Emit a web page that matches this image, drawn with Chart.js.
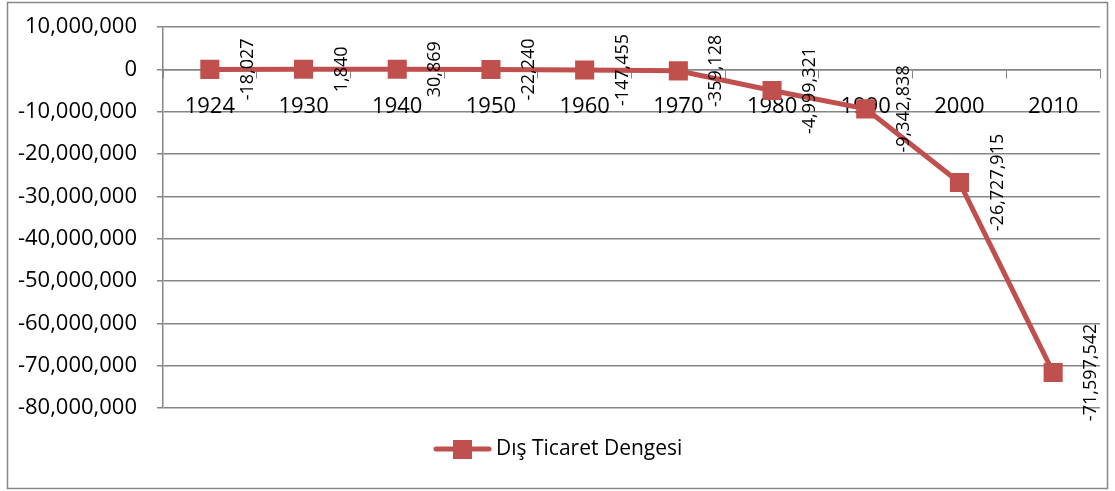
<!DOCTYPE html>
<html>
<head>
<meta charset="utf-8">
<script src="https://cdn.jsdelivr.net/npm/chart.js@4.4.0/dist/chart.umd.min.js"></script>
<style>
html, body { margin: 0; padding: 0; background: #fff; }
</style>
</head>
<body>
<canvas id="chart" width="1115" height="491"></canvas>
<script>
// Data
const years = ['1924', '1930', '1940', '1950', '1960', '1970', '1980', '1990', '2000', '2010'];
const balance = [-18027, 1840, 30869, -22240, -147455, -359128, -4999321, -9342838, -26727915, -71597542];
const yTicks = [10000000, 0, -10000000, -20000000, -30000000, -40000000, -50000000, -60000000, -70000000, -80000000];

const red = '#C0504D';
const gray = '#868686';
const fontFamily = '"Open Sans", "Noto Sans", sans-serif';

function fmt(v) {
    return v.toLocaleString('en-US');
}

// outer frame
const frame = {
    id: 'frame',
    beforeDraw(chart) {
        const ctx = chart.ctx;
        ctx.save();
        ctx.fillStyle = '#fff';
        ctx.fillRect(0, 0, chart.width, chart.height);
        ctx.strokeStyle = gray;
        ctx.lineWidth = 1.5;
        ctx.strokeRect(7.5, 2.5, 1100, 486);
        ctx.restore();
    }
};

// rotated value labels to the right of each point
const valueLabels = {
    id: 'valueLabels',
    afterDatasetsDraw(chart) {
        const ctx = chart.ctx;
        const meta = chart.getDatasetMeta(0);
        ctx.save();
        ctx.font = '18px ' + fontFamily;
        ctx.fillStyle = '#000';
        ctx.textAlign = 'center';
        ctx.textBaseline = 'middle';
        meta.data.forEach((pt, i) => {
            ctx.save();
            ctx.translate(pt.x + 38, pt.y);
            ctx.rotate(-Math.PI / 2);
            ctx.fillText(fmt(balance[i]), 0, 0);
            ctx.restore();
        });
        ctx.restore();
    }
};

// legend under the plot: line + square marker, then series name
const lineLegend = {
    id: 'lineLegend',
    afterDraw(chart) {
        const ctx = chart.ctx;
        const ds = chart.data.datasets[0];
        const y = 449;
        const x0 = 436;
        ctx.save();
        ctx.strokeStyle = ds.borderColor;
        ctx.lineWidth = 5;
        ctx.lineCap = 'round';
        ctx.beginPath();
        ctx.moveTo(x0, y);
        ctx.lineTo(x0 + 53, y);
        ctx.stroke();
        ctx.fillStyle = ds.borderColor;
        ctx.fillRect(x0 + 17, y - 9, 19, 19);
        ctx.fillStyle = '#000';
        ctx.font = '21px ' + fontFamily;
        ctx.textAlign = 'left';
        ctx.textBaseline = 'middle';
        ctx.fillText(ds.label, x0 + 60, y);
        ctx.restore();
    }
};

new Chart(document.getElementById('chart'), {
    type: 'line',
    data: {
        labels: years,
        datasets: [{
            label: 'Dış Ticaret Dengesi',
            data: balance,
            borderColor: red,
            backgroundColor: red,
            borderWidth: 5,
            tension: 0,
            pointStyle: 'rect',
            pointRadius: 13.5,
            pointHoverRadius: 13.5,
            pointBackgroundColor: red,
            pointBorderColor: red,
            pointBorderWidth: 0
        }]
    },
    options: {
        responsive: false,
        animation: false,
        layout: {
            padding: { left: 8, right: 15, top: 27, bottom: 83 }
        },
        plugins: {
            tooltip: { enabled: false },
            legend: { display: false }
        },
        scales: {
            x: {
                type: 'category',
                position: { y: 0 },
                offset: true,
                grid: {
                    display: true,
                    drawOnChartArea: false,
                    offset: true,
                    tickLength: 8,
                    color: gray
                },
                border: { color: gray, width: 1.5 },
                ticks: {
                    color: '#000',
                    font: { family: fontFamily, size: 22 },
                    padding: 16,
                    maxRotation: 0,
                    autoSkip: false
                }
            },
            y: {
                min: -80000000,
                max: 10000000,
                afterBuildTicks: scale => {
                    scale.ticks = yTicks.map(v => ({ value: v }));
                },
                afterFit: scale => {
                    scale.width = 155;
                    scale.paddingTop = 10;
                    scale.paddingBottom = 10;
                },
                grid: {
                    color: gray,
                    lineWidth: 1.5,
                    tickLength: 6
                },
                border: { color: gray, width: 1.5 },
                ticks: {
                    color: '#000',
                    font: { family: fontFamily, size: 22 },
                    padding: 20,
                    callback: v => fmt(v)
                }
            }
        }
    },
    plugins: [frame, valueLabels, lineLegend]
});
</script>
</body>
</html>
